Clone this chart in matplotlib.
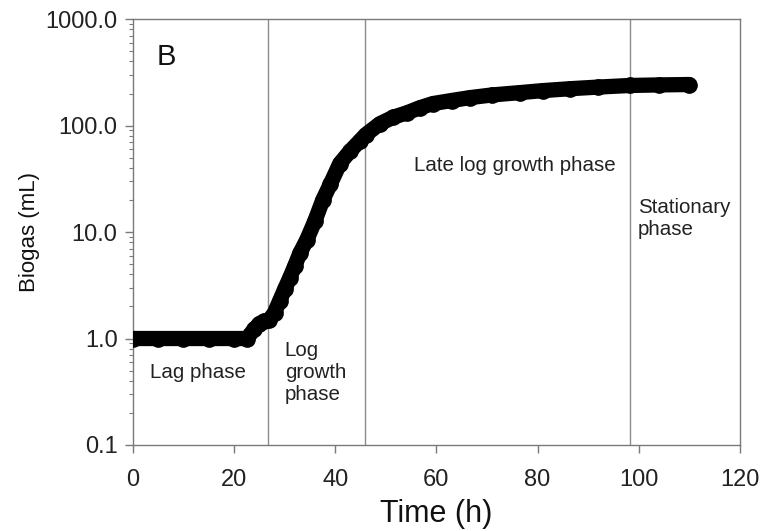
import matplotlib.pyplot as plt
from matplotlib.ticker import FixedLocator, LogLocator, NullFormatter

plt.rcParams['font.family'] = ['Liberation Sans', 'DejaVu Sans']

# cumulative biogas readings (h, mL)
time_h = [0, 5, 10, 15, 20, 22.5, 24, 25, 26, 27, 28, 29, 30, 31, 32, 33,
          34.4, 36, 37.5, 39, 40.9, 43, 44.9, 46, 48.8, 51.5, 54.2, 56.7,
          59.3, 63, 66.6, 71, 76.5, 81, 86.4, 92, 98.2, 104, 110]
biogas_ml = [1.0, 1.0, 1.0, 1.0, 1.0, 1.0, 1.22, 1.38, 1.46, 1.5, 1.75,
             2.25, 2.9, 3.7, 4.8, 6.3, 8.5, 12.8, 19.8, 28, 44, 58, 72, 82,
             104, 120, 132, 147, 161, 172, 183, 194, 204, 213, 222, 230,
             238, 241, 243]

phase_bounds = [26.8, 45.9, 98.3]
phase_labels = ['Lag phase', 'Log\ngrowth\nphase', 'Late log growth phase',
                'Stationary\nphase']
label_pos = [(3.3, 0.48), (30.0, 0.48), (55.6, 42), (99.8, 13.4)]

fig = plt.figure(figsize=(7.68, 5.31), dpi=100)
ax = fig.add_axes([0.173, 0.162, 0.7905, 0.802])

for xb in phase_bounds:
    ax.axvline(xb, color='#8c8c8c', lw=1.0, zorder=1)

ax.plot(time_h, biogas_ml, color='black', lw=11, marker='o', ms=11,
        solid_capstyle='round', solid_joinstyle='round', zorder=3)

ax.set_yscale('log')
ax.set_xlim(0, 120)
ax.set_ylim(0.1, 1000)
ax.set_xticks([0, 20, 40, 60, 80, 100, 120])
ax.yaxis.set_major_locator(FixedLocator([0.1, 1, 10, 100, 1000]))
ax.set_yticklabels(['0.1', '1.0', '10.0', '100.0', '1000.0'])
ax.yaxis.set_minor_locator(LogLocator(base=10, subs=range(2, 10)))
ax.yaxis.set_minor_formatter(NullFormatter())

for sp in ax.spines.values():
    sp.set_color('#7a7a7a')
    sp.set_linewidth(1.0)
ax.tick_params(axis='both', which='major', direction='out', length=6,
               width=1.0, color='#7a7a7a', labelsize=17, labelcolor='#222222')
ax.tick_params(axis='x', pad=11)
ax.tick_params(axis='y', pad=5)
ax.tick_params(axis='y', which='minor', direction='out', length=3,
               width=0.8, color='#7a7a7a')

ax.set_xlabel('Time (h)', fontsize=22, color='#111111', labelpad=6)
ax.set_ylabel('Biogas (mL)', fontsize=16, color='#111111', labelpad=4)

for txt, (xt, yt) in zip(phase_labels, label_pos):
    ax.text(xt, yt, txt, fontsize=14.8, color='#222222', ha='left',
            va='center', linespacing=1.2)
ax.text(4.6, 440, 'B', fontsize=21, color='#111111', ha='left', va='center')

fig.savefig('out.png', dpi=100)
